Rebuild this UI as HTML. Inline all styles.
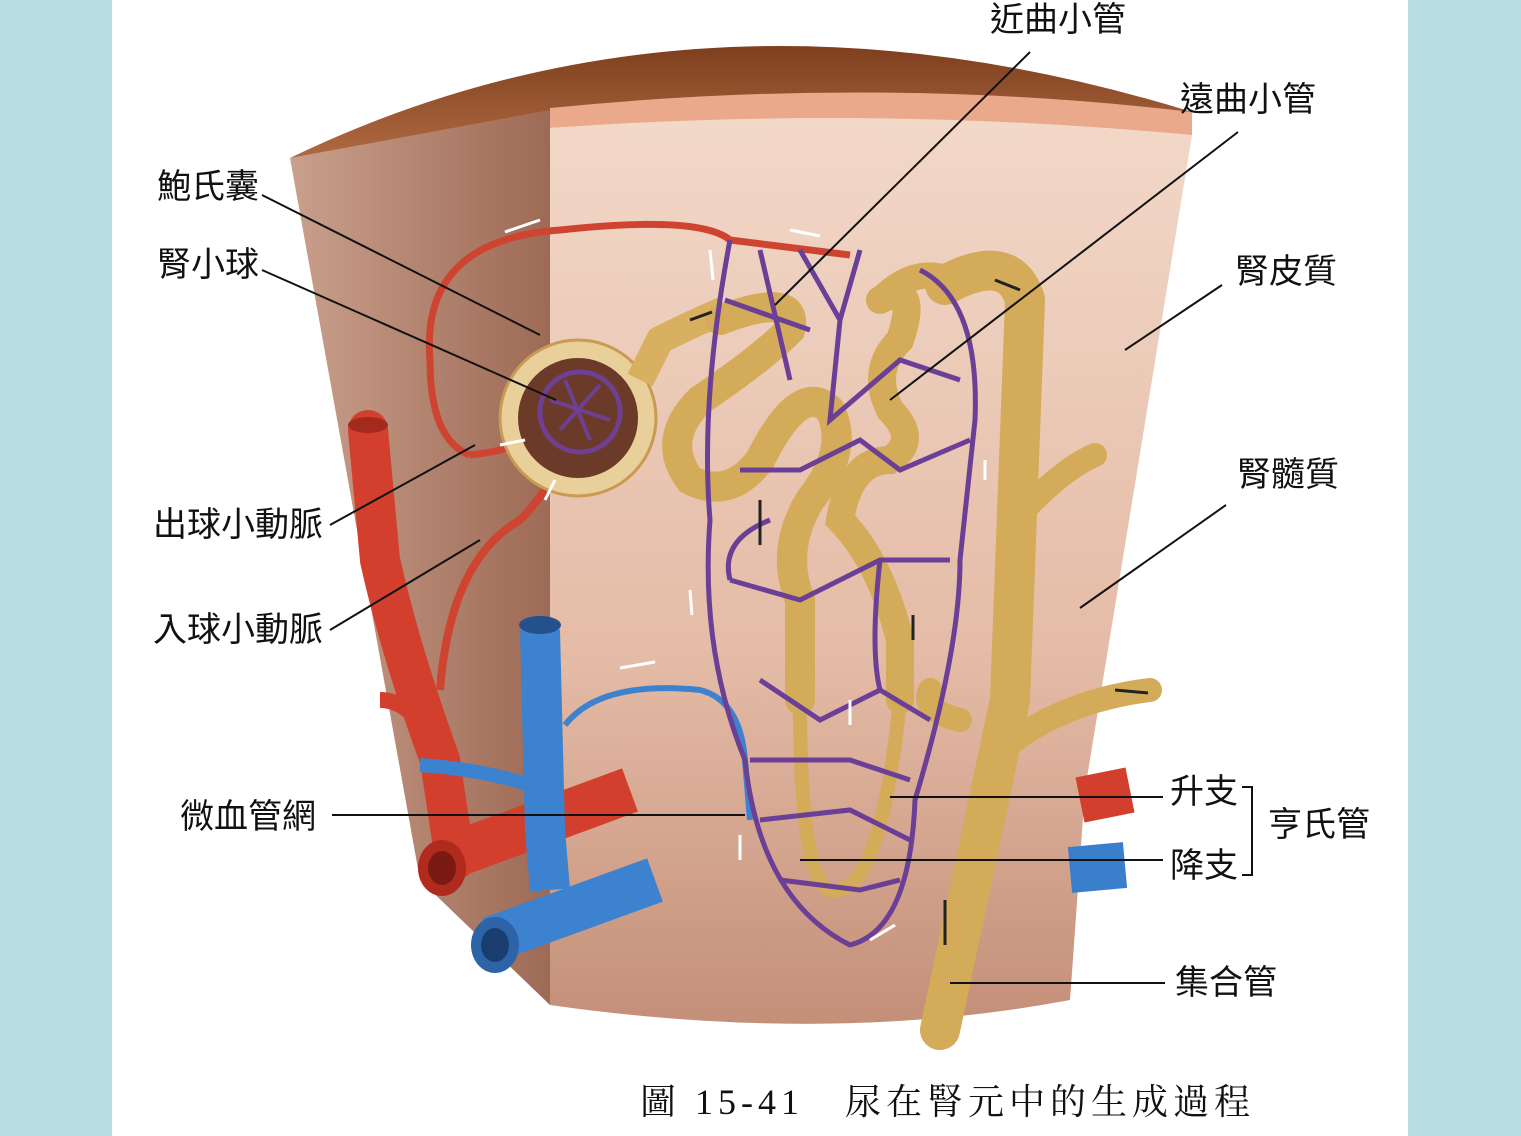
<!DOCTYPE html>
<html><head><meta charset="utf-8"><style>
html,body{margin:0;padding:0;background:#fff}
body{width:1521px;height:1136px;position:relative;overflow:hidden;font-family:"Liberation Sans","Noto Sans CJK TC",sans-serif}
.side{position:absolute;top:0;width:112px;height:1136px;background:#b6dee3}
.t{position:absolute;font-size:34px;color:#111;line-height:1;white-space:nowrap;font-family:"Liberation Sans","Noto Sans CJK TC",sans-serif}
</style></head><body>
<div class="side" style="left:0"></div>
<div class="side" style="left:1408px;width:113px"></div>
<svg width="1521" height="1136" style="position:absolute;left:0;top:0">
<defs>
<linearGradient id="lf" x1="0" x2="1"><stop offset="0" stop-color="#c9a08c"/><stop offset="1" stop-color="#9d6a55"/></linearGradient>
<linearGradient id="ff" x1="0" x2="0" y1="0" y2="1"><stop offset="0" stop-color="#f2d8c8"/><stop offset="0.6" stop-color="#e4bba6"/><stop offset="1" stop-color="#c48f78"/></linearGradient>
<linearGradient id="cap" x1="0" x2="0" y1="0" y2="1"><stop offset="0" stop-color="#7e3f1e"/><stop offset="1" stop-color="#b06a42"/></linearGradient>
</defs>
<path d="M290,158 Q700,-40 1192,112 L1192,135 Q860,95 550,125 Z" fill="url(#cap)"/>
<path d="M550,108 Q880,75 1192,112 L1192,135 Q860,108 550,128 Z" fill="#e9a98a"/>
<path d="M290,158 L550,110 L550,1005 L420,880 Z" fill="url(#lf)"/>
<path d="M550,128 Q870,105 1192,135 L1085,790 L1070,1000 Q830,1045 550,1005 Z" fill="url(#ff)"/>
<path d="M368,430 L380,560 Q400,650 440,760 L455,860" stroke="#d2402d" stroke-width="40" fill="none" stroke-linecap="round"/>
<path d="M380,700 Q410,700 430,740" stroke="#d2402d" stroke-width="16" fill="none"/>
<path d="M440,860 L630,790" stroke="#d2402d" stroke-width="46" fill="none"/>
<ellipse cx="442" cy="868" rx="24" ry="28" fill="#b12a1e"/><ellipse cx="442" cy="868" rx="14" ry="17" fill="#7a1a12"/>
<ellipse cx="368" cy="425" rx="20" ry="8" fill="#a42a1d"/>
<path d="M1080,800 L1130,790" stroke="#d2402d" stroke-width="46" fill="none"/>
<path d="M1070,870 L1125,865" stroke="#3a7fcb" stroke-width="46" fill="none"/>
<path d="M440,690 Q450,560 520,520 Q560,480 560,440" stroke="#cf4430" stroke-width="8" fill="none"/>
<path d="M470,455 Q520,450 540,430 M470,455 Q430,440 430,360 Q420,240 560,230 Q700,215 730,240 L850,255" stroke="#cf4430" stroke-width="7" fill="none"/>
<path d="M540,630 L545,830 L550,890" stroke="#3c82cf" stroke-width="40" fill="none"/>
<path d="M420,765 Q490,770 545,790" stroke="#3c82cf" stroke-width="14" fill="none"/>
<path d="M490,940 L655,880" stroke="#3c82cf" stroke-width="46" fill="none"/>
<ellipse cx="495" cy="945" rx="24" ry="28" fill="#2d64a8"/><ellipse cx="495" cy="945" rx="14" ry="17" fill="#1a3d70"/>
<ellipse cx="540" cy="625" rx="21" ry="9" fill="#24518d"/>
<path d="M565,725 Q600,680 700,690 Q740,700 745,760 L750,820" stroke="#3c82cf" stroke-width="6" fill="none"/>
<circle cx="578" cy="418" r="78" fill="#e9d09a" stroke="#c89a52" stroke-width="3"/>
<circle cx="578" cy="418" r="60" fill="#6b3a28"/>
<path d="M640,380 L660,340 Q700,320 725,310" stroke="#d8b060" stroke-width="28" fill="none"/>
<circle cx="580" cy="412" r="40" fill="none" stroke="#6f3f92" stroke-width="5"/>
<path d="M550,400 L610,420 M565,380 L590,440 M600,385 L560,430" stroke="#6f3f92" stroke-width="4"/>
<g stroke="#d4ab58" fill="none" stroke-linecap="round">
<path d="M720,320 Q800,290 790,330 Q760,360 700,400 Q660,440 690,480 Q730,500 760,460 Q800,380 830,410 Q850,450 810,500 Q780,550 800,600 L800,700" stroke-width="30"/>
<path d="M880,300 Q920,280 900,340 Q870,370 890,410 Q920,440 890,460 Q850,460 840,520 Q880,560 900,640 L900,700" stroke-width="28"/>
<path d="M800,700 Q800,880 830,890 Q880,900 900,700" stroke-width="14"/>
<path d="M880,300 Q920,260 960,285" stroke-width="26"/>
<path d="M945,285 Q1010,250 1025,300 L1010,700 L940,1030" stroke-width="40"/>
<path d="M1015,520 Q1060,470 1095,455 M1015,740 Q1070,700 1150,690 M960,720 Q920,710 930,690" stroke-width="24"/>
</g>
<g stroke="#6a3f95" stroke-width="5" fill="none">
<path d="M730,240 Q700,400 710,520 Q700,650 745,760 Q760,900 850,945 Q910,930 915,800 Q960,650 960,560 L975,420 Q980,300 920,270"/>
<path d="M725,300 L810,330 M760,250 L790,380 M800,250 L840,320 L860,250 M840,320 L830,420 L900,360 L960,380 M740,470 L800,470 L860,440 L900,470 L970,440 M730,580 L800,600 L880,560 L950,560 M760,680 L820,720 L880,690 L930,720 M750,760 L850,760 L910,780 M760,820 L850,810 L910,840 M780,880 L860,890 L900,880 M770,520 Q720,540 730,580 M880,560 Q870,650 880,690"/>
</g>
<g stroke="#fff" stroke-width="3">
<path d="M505,232 L540,220 M790,230 L820,236 M710,250 L713,280 M620,668 L655,662 M525,440 L500,445 M545,500 L555,480 M850,700 L850,725 M740,835 L740,860 M690,590 L692,615 M870,940 L895,925 M985,460 L985,480"/>
</g>
<g stroke="#222" stroke-width="3">
<path d="M690,320 L712,312 M760,500 L760,545 M913,640 L913,615 M995,280 L1020,290 M1115,690 L1148,693 M945,900 L945,945"/>
</g>
<g stroke="#111" stroke-width="2" fill="none">
<path d="M1030,52 L775,305 M1238,132 L890,400 M1222,285 L1125,350 M1226,505 L1080,608 M262,195 L540,335 M262,270 L556,400 M330,525 L475,445 M330,630 L480,540 M332,815 L745,815 M890,797 L1163,797 M800,860 L1163,860 M950,983 L1165,983 M1242,787 L1252,787 L1252,875 L1242,875"/>
</g>
</svg>
<div class="t" style="left:990px;top:3px">近曲小管</div>
<div class="t" style="left:1180px;top:83px">遠曲小管</div>
<div class="t" style="left:1235px;top:255px">腎皮質</div>
<div class="t" style="left:1237px;top:458px">腎髓質</div>
<div class="t" style="left:157px;top:170px">鮑氏囊</div>
<div class="t" style="left:157px;top:248px">腎小球</div>
<div class="t" style="left:153px;top:508px">出球小動脈</div>
<div class="t" style="left:153px;top:613px">入球小動脈</div>
<div class="t" style="left:180px;top:800px">微血管網</div>
<div class="t" style="left:1170px;top:775px">升支</div>
<div class="t" style="left:1170px;top:849px">降支</div>
<div class="t" style="left:1268px;top:808px">亨氏管</div>
<div class="t" style="left:1175px;top:966px">集合管</div>
<div class="t" style="left:640px;top:1084px;font-size:36px;letter-spacing:5px;font-family:'Liberation Serif','Noto Serif CJK SC',serif">圖 15-41　尿在腎元中的生成過程</div>
</body></html>
